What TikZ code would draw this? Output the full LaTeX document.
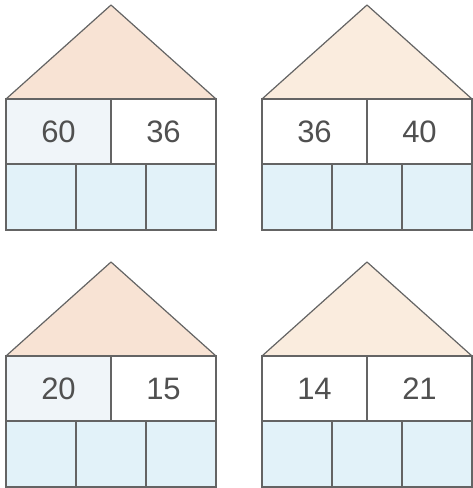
\documentclass[tikz,border=0pt]{standalone}
\usepackage{fontspec}
\setmainfont{Liberation Sans}
\usepackage{tikz}
\usetikzlibrary{positioning}
\definecolor{roofpink}{RGB}{248,227,212}
\definecolor{roofsand}{RGB}{250,236,222}
\definecolor{paleblue}{RGB}{240,245,249}
\definecolor{cellblue}{RGB}{226,242,249}
\definecolor{edgegray}{RGB}{100,100,100}
\definecolor{numgray}{RGB}{80,80,80}

\begin{document}
\begin{tikzpicture}[x=1pt, y=-1pt, line width=1.2pt,
    every node/.style={font=\fontsize{31}{36}\selectfont, text=numgray},
    numcell/.style={draw=edgegray, inner sep=0pt, outer sep=0pt, minimum width=105pt, minimum height=65pt},
    emptycell/.style={draw=edgegray, fill=cellblue, inner sep=0pt, outer sep=0pt, minimum width=70pt, minimum height=66pt}]
  \useasboundingbox (0,0) rectangle (472,488);
  % one house per entry: x, y, left number, right number, roof colour, left fill
  \foreach \hx/\hy/\a/\b/\rc/\lf [count=\i] in
      {6/0/60/36/roofpink/paleblue, 262/0/36/40/roofsand/white,
       6/257/20/15/roofpink/paleblue, 262/257/14/21/roofsand/white} {
    \coordinate (apex\i) at (\hx+105,\hy+5);
    \coordinate (eaveL\i) at (\hx,\hy+99);
    \coordinate (eaveR\i) at (\hx+210,\hy+99);
    \filldraw[draw=edgegray, fill=\rc, line join=round] (eaveL\i) -- (apex\i) -- (eaveR\i) -- cycle;
    \node[numcell, fill=\lf, anchor=north west] (left\i) at (eaveL\i) {\a};
    \node[numcell, fill=white, right=0pt of left\i] (right\i) {\b};
    \node[emptycell, anchor=north west] (boxA\i) at (left\i.south west) {};
    \node[emptycell, right=0pt of boxA\i] (boxB\i) {};
    \node[emptycell, right=0pt of boxB\i] (boxC\i) {};
  }
\end{tikzpicture}
\end{document}
